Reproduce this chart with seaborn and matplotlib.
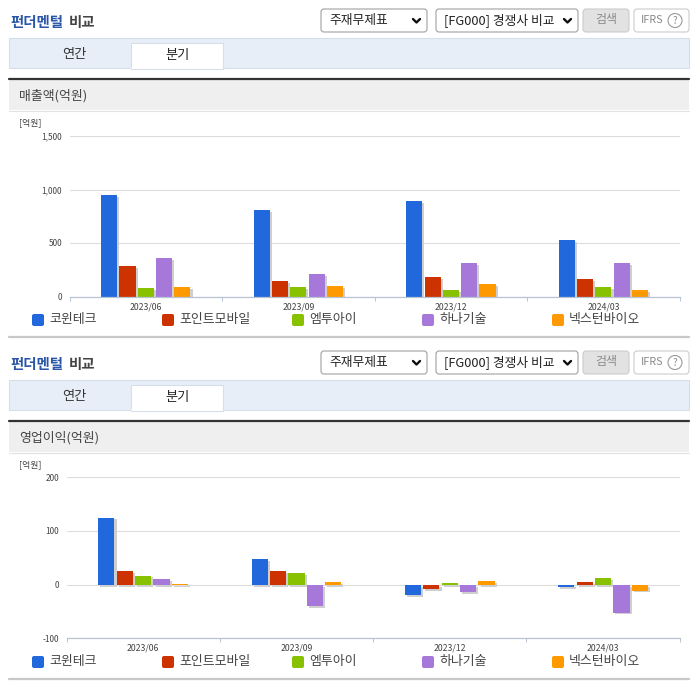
import seaborn as sns
import pandas as pd
import matplotlib.pyplot as plt
import matplotlib.patheffects as pe
from matplotlib.patches import Rectangle, FancyBboxPatch, Circle

W, H = 696, 684

companies = ['코윈테크', '포인트모바일', '엠투아이', '하나기술', '넥스턴바이오']
periods = ['2023/06', '2023/09', '2023/12', '2024/03']
colors = ['#2168dd', '#cc3300', '#88c100', '#a678d9', '#ff9900']

sales_kowin = [947, 807, 891, 526]
sales_point = [283, 143, 181, 162]
sales_m2i = [78, 87, 59, 87]
sales_hana = [358, 209, 312, 312]
sales_nexturn = [87, 97, 115, 59]

profit_kowin = [125, 47, -20, -5]
profit_point = [25, 25, -8, 4]
profit_m2i = [17, 21, 3, 12]
profit_hana = [10, -40, -14, -52]
profit_nexturn = [1.5, 4, 6, -11]

sales_ticks = [0, 500, 1000, 1500]
profit_ticks = [-100, 0, 100, 200]

sns.set_theme(style='white')
plt.rcParams['font.family'] = ['Noto Sans CJK KR', 'DejaVu Sans']

fig = plt.figure(figsize=(W / 100, H / 100), dpi=100)

# full figure axes in pixels for the page parts around the charts
page = fig.add_axes([0, 0, 1, 1])
page.set_xlim(0, W)
page.set_ylim(H, 0)
page.axis('off')


def long_table(columns):
    df = pd.DataFrame(dict(zip(companies, columns)))
    df['period'] = periods
    return df.melt(id_vars='period', var_name='company', value_name='value')


def box(x0, y0, x1, y1, face, edge='none', lw=0.8):
    page.add_patch(Rectangle((x0, y0), x1 - x0, y1 - y0, fc=face, ec=edge, lw=lw))


def select(x0, x1, y, label):
    page.add_patch(FancyBboxPatch((x0, y), x1 - x0, 23, boxstyle='round,pad=0,rounding_size=3',
                                  fc='white', ec='#a0a0a0', lw=0.8))
    page.text(x0 + 8, y + 11.5, label, fontsize=9.2, color='#222222', va='center')
    page.plot([x1 - 14, x1 - 10.5, x1 - 7], [y + 10, y + 13.5, y + 10], color='#111111', lw=1.7)


def header(dy, section):
    page.text(10, 23 + dy, '펀더멘털', fontsize=10.4, color='#2a56a8', fontweight='bold', va='center')
    page.text(69, 23 + dy, '비교', fontsize=10.4, color='#444444', fontweight='bold', va='center')
    select(321, 427, 9 + dy, '주재무제표')
    select(436, 578, 9 + dy, '[FG000] 경쟁사 비교')
    page.add_patch(FancyBboxPatch((583, 9 + dy), 46, 23, boxstyle='round,pad=0,rounding_size=3',
                                  fc='#e2e2e2', ec='#cccccc', lw=0.8))
    page.text(606, 20 + dy, '검색', fontsize=8.6, color='#8a8a8a', ha='center', va='center')
    page.add_patch(FancyBboxPatch((634, 9 + dy), 55, 23, boxstyle='round,pad=0,rounding_size=3',
                                  fc='white', ec='#cccccc', lw=0.8))
    page.text(641, 20 + dy, 'IFRS', fontsize=7.8, color='#8a8a8a', va='center')
    page.add_patch(Circle((675, 20.5 + dy), 7, fc='white', ec='#9a9a9a', lw=0.8))
    page.text(675, 20.5 + dy, '?', fontsize=7, color='#8a8a8a', ha='center', va='center')

    box(9, 38 + dy, 689, 68 + dy, '#e8eef8', '#d6dee9')
    box(131, 43 + dy, 222.5, 68.5 + dy, 'white', '#d6dee9')
    page.plot([131.5, 222], [68 + dy, 68 + dy], color='white', lw=1.2)
    page.text(74, 54.5 + dy, '연간', fontsize=9.5, color='#333333', ha='center', va='center')
    page.text(177, 55 + dy, '분기', fontsize=9.5, color='#222222', ha='center', va='center')

    box(9, 80 + dy, 689, 110 + dy, '#efefef')
    page.plot([9, 689], [110.5 + dy, 110.5 + dy], color='#e2e2e2', lw=0.8)
    page.plot([9, 689], [79 + dy, 79 + dy], color='#333333', lw=1.6)
    page.text(19, 95.5 + dy, section, fontsize=9.3, color='#444444', va='center')
    page.text(19, 122.5 + dy, '[억원]', fontsize=6.4, color='#444444', va='center')

    # legend row
    for i, name in enumerate(companies):
        x = 32 + 130 * i
        page.add_patch(FancyBboxPatch((x, 314 + dy), 12, 12, boxstyle='round,pad=0,rounding_size=2',
                                      fc=colors[i], ec='none'))
        page.text(x + 17, 320 + dy, name, fontsize=9.3, color='#444444', va='center')
    page.plot([9, 689], [336.7 + dy, 336.7 + dy], color='#c8c8c8', lw=1.6)


def chart(columns, ticks, x0, x1, y0, y1):
    ax = fig.add_axes([x0 / W, 1 - y1 / H, (x1 - x0) / W, (y1 - y0) / H])
    ax.patch.set_alpha(0)
    sns.barplot(data=long_table(columns), x='period', y='value', hue='company', palette=colors,
                width=0.6, gap=0.12, saturation=1, legend=False, linewidth=0, edgecolor='none', ax=ax)
    for bar in ax.patches:
        bar.set_path_effects([pe.SimplePatchShadow(offset=(1.5, -1.4), shadow_rgbFace='#cfcfcf', alpha=1),
                              pe.Normal()])
    ax.set_xlim(-0.5, len(periods) - 0.5)
    ax.set_ylim(ticks[0], ticks[-1])
    ax.set_yticks(ticks)
    ax.set_yticklabels([f'{t:,}' for t in ticks])
    ax.set_xlabel('')
    ax.set_ylabel('')
    ax.set_axisbelow(True)
    ax.grid(axis='y', color='#dcdcdc', lw=0.8)
    ax.set_xticks([i - 0.5 for i in range(len(periods) + 1)], minor=True)
    ax.tick_params(axis='x', which='minor', length=3, width=0.7, color='#b8c4d4', bottom=True)
    ax.tick_params(axis='x', which='major', length=0, labelsize=6.3, labelcolor='#444444', pad=4)
    ax.tick_params(axis='y', length=0, labelsize=6, labelcolor='#444444', pad=5.4)
    for side in ['top', 'right', 'left']:
        ax.spines[side].set_visible(False)
    ax.spines['bottom'].set_color('#b8c4d4')
    ax.spines['bottom'].set_linewidth(0.9)
    return ax


header(0, '매출액(억원)')
header(342, '영업이익(억원)')

chart([sales_kowin, sales_point, sales_m2i, sales_hana, sales_nexturn], sales_ticks, 69.5, 679.7, 136, 296.5)
chart([profit_kowin, profit_point, profit_m2i, profit_hana, profit_nexturn], profit_ticks, 66.5, 679.7, 477.3, 638.3)

fig.savefig('out.png', dpi=100)
